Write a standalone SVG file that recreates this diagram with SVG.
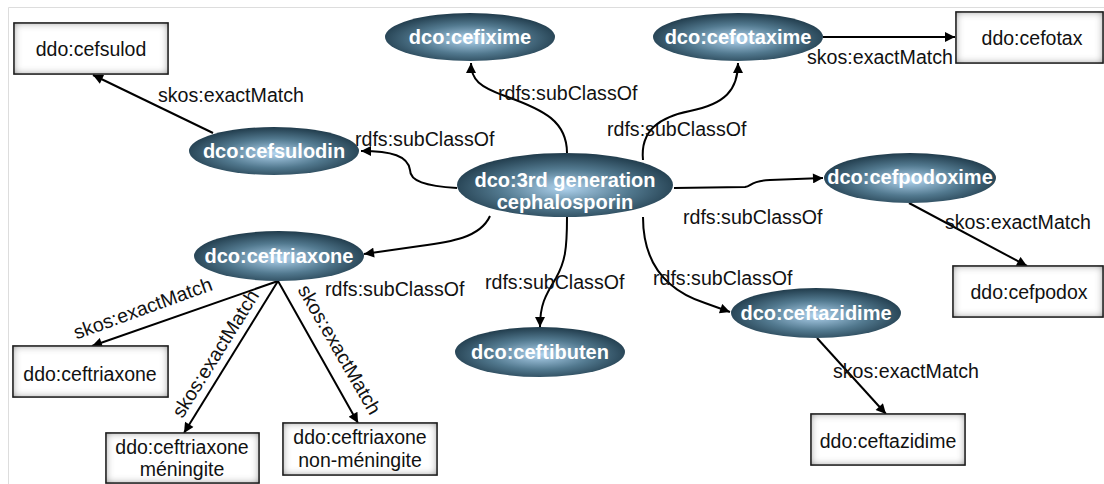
<svg xmlns="http://www.w3.org/2000/svg" width="1104" height="484" viewBox="0 0 1104 484">
<defs>
<style>
.lbl{font-family:"Liberation Sans",Arial,sans-serif;font-size:19.6px;fill:#111}
.nt{font-family:"Liberation Sans",Arial,sans-serif;font-size:20px;font-weight:bold;fill:#fff;text-anchor:middle}
.bt{font-family:"Liberation Sans",Arial,sans-serif;font-size:19.5px;fill:#111;text-anchor:middle}
.edge{fill:none;stroke:#000;stroke-width:2;marker-end:url(#arr)}
.ell{fill:url(#eg)}
.box{fill:#fff;stroke:#333;stroke-width:1.5;filter:url(#inner)}
</style>
<radialGradient id="eg" cx="50%" cy="55%" r="55%">
<stop offset="0" stop-color="#b0d3ee"/>
<stop offset="0.55" stop-color="#52798f"/>
<stop offset="1" stop-color="#203b4b"/>
</radialGradient>
<filter id="inner" x="-10%" y="-30%" width="120%" height="160%">
<feComponentTransfer in="SourceAlpha" result="inv"><feFuncA type="table" tableValues="1 0"/></feComponentTransfer>
<feGaussianBlur in="inv" stdDeviation="4.5" result="blur"/>
<feFlood flood-color="#000" flood-opacity="0.95"/>
<feComposite in2="blur" operator="in" result="shadow"/>
<feComposite in="shadow" in2="SourceAlpha" operator="in" result="inset"/>
<feMerge><feMergeNode in="SourceGraphic"/><feMergeNode in="inset"/></feMerge>
</filter>
<marker id="arr" viewBox="0 0 10 10" refX="10" refY="5" markerWidth="12" markerHeight="10" markerUnits="userSpaceOnUse" orient="auto">
<path d="M0,0 L10,5 L0,10 Z" fill="#000"/>
</marker>
</defs>
<rect width="1104" height="484" fill="#fff"/>
<path d="M8.5,484 V7.5 H1104" fill="none" stroke="#ddd" stroke-width="1"/>

<g id="connectors">
<path class="edge" d="M457,188 C425,186 410,181 410,170 C408,156 392,151 361,151"/>
<path class="edge" d="M567,153 C567,122 545,110 505,96 C480,87 471,80 471,63"/>
<path class="edge" d="M643,160 C640,130 660,117 690,111 C725,104 738,90 738,63"/>
<path class="edge" d="M823,37 L955,37"/>
<path class="edge" d="M674,188 L745,187 C752,186 750,181 770,180 L823,178"/>
<path class="edge" d="M909,203 L1027,266"/>
<path class="edge" d="M490,216 C480,238 450,242 420,246 L364,254"/>
<path class="edge" d="M567,217 C567,250 565,262 556,278 C545,296 540,305 540,327"/>
<path class="edge" d="M643,217 C643,262 665,290 705,303 L730,312"/>
<path class="edge" d="M817,338 L886,414"/>
<path class="edge" d="M213,133 L93,75"/>
<path class="edge" d="M278,281 L92,346"/>
<path class="edge" d="M278,281 L184,433"/>
<path class="edge" d="M278,281 L358,423"/>
<text class="lbl" x="355" y="146">rdfs:subClassOf</text>
<text class="lbl" x="498" y="100">rdfs:subClassOf</text>
<text class="lbl" x="607" y="136">rdfs:subClassOf</text>
<text class="lbl" x="807" y="64">skos:exactMatch</text>
<text class="lbl" x="683" y="224">rdfs:subClassOf</text>
<text class="lbl" x="945" y="229">skos:exactMatch</text>
<text class="lbl" x="325" y="296">rdfs:subClassOf</text>
<text class="lbl" x="485" y="289">rdfs:subClassOf</text>
<text class="lbl" x="653" y="285">rdfs:subClassOf</text>
<text class="lbl" x="833" y="378">skos:exactMatch</text>
<text class="lbl" x="158" y="102">skos:exactMatch</text>
<text class="lbl" text-anchor="middle" transform="translate(143,309) rotate(-20)" y="6">skos:exactMatch</text>
<text class="lbl" text-anchor="middle" transform="translate(216,354) rotate(-58)" y="6">skos:exactMatch</text>
<text class="lbl" text-anchor="middle" transform="translate(339,350) rotate(60)" y="6">skos:exactMatch</text>
</g>

<g id="n-3rd"><ellipse class="ell" cx="565" cy="185" rx="108" ry="32"/><text class="nt" x="565" y="187">dco:3rd generation</text><text class="nt" x="565" y="209">cephalosporin</text></g>
<g id="n-cefsulodin"><ellipse class="ell" cx="274" cy="151" rx="85" ry="24"/><text class="nt" x="274" y="158">dco:cefsulodin</text></g>
<g id="n-cefixime"><ellipse class="ell" cx="470" cy="37" rx="85" ry="24"/><text class="nt" x="470" y="44">dco:cefixime</text></g>
<g id="n-cefotaxime"><ellipse class="ell" cx="738" cy="37" rx="85" ry="24"/><text class="nt" x="738" y="44">dco:cefotaxime</text></g>
<g id="n-cefpodoxime"><ellipse class="ell" cx="910" cy="178" rx="86" ry="25"/><text class="nt" x="910" y="184">dco:cefpodoxime</text></g>
<g id="n-ceftriaxone"><ellipse class="ell" cx="279" cy="256" rx="85" ry="25"/><text class="nt" x="279" y="263">dco:ceftriaxone</text></g>
<g id="n-ceftibuten"><ellipse class="ell" cx="540" cy="352" rx="85" ry="25"/><text class="nt" x="540" y="359">dco:ceftibuten</text></g>
<g id="n-ceftazidime"><ellipse class="ell" cx="816" cy="313" rx="85" ry="25"/><text class="nt" x="816" y="320">dco:ceftazidime</text></g>

<g id="b-cefsulod"><rect class="box" x="14" y="23" width="154" height="51"/><text class="bt" x="91" y="56">ddo:cefsulod</text></g>
<g id="b-cefotax"><rect class="box" x="956" y="12" width="147" height="51"/><text class="bt" x="1032" y="45">ddo:cefotax</text></g>
<g id="b-cefpodox"><rect class="box" x="953" y="266" width="150" height="51"/><text class="bt" x="1029" y="299">ddo:cefpodox</text></g>
<g id="b-ceftazidime"><rect class="box" x="811" y="414" width="154" height="51"/><text class="bt" x="888" y="448">ddo:ceftazidime</text></g>
<g id="b-ceftriaxone"><rect class="box" x="13" y="346" width="155" height="51"/><text class="bt" x="90" y="381">ddo:ceftriaxone</text></g>
<g id="b-meningite"><rect class="box" x="106" y="433" width="153" height="50"/><text class="bt" x="182" y="454">ddo:ceftriaxone</text><text class="bt" x="182" y="476">méningite</text></g>
<g id="b-nonmeningite"><rect class="box" x="283" y="423" width="154" height="52"/><text class="bt" x="360" y="444">ddo:ceftriaxone</text><text class="bt" x="360" y="467">non-méningite</text></g>
</svg>
